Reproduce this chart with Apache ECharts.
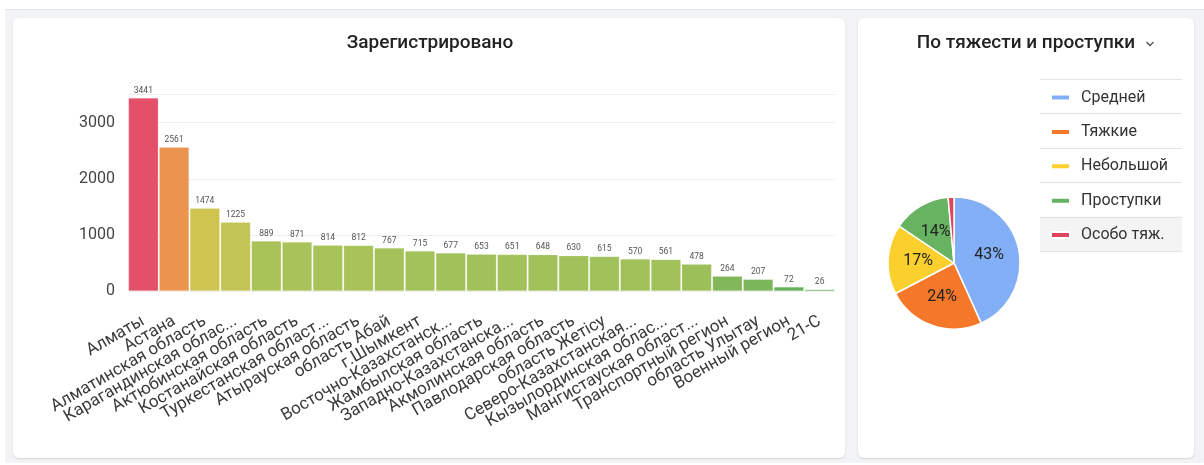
<!DOCTYPE html>
<html>
<head>
<meta charset="utf-8">
<script src="https://cdn.jsdelivr.net/npm/echarts@6/dist/echarts.min.js"></script>
<style>
  html, body { margin: 0; padding: 0; background: #fff; width: 1204px; height: 465px; overflow: hidden; }
  #bg { position: absolute; left: 5px; top: 9px; width: 1199px; height: 453px; background: #f1f3f4; border-top: 1px solid #e6e6e6; }
  .card { position: absolute; background: #fff; border-radius: 6px; box-shadow: 0 1px 2px rgba(0,0,0,0.13); }
  #chart { position: absolute; left: 0; top: 0; width: 1204px; height: 465px; }
</style>
</head>
<body>
<div id="bg"></div>
<div class="card" style="left:13px;top:18px;width:832px;height:440px"></div>
<div class="card" style="left:858px;top:18px;width:336px;height:440px"></div>
<div id="chart"></div>
<script>
// ---- data ----
const regions = [
  'Алматы', 'Астана', 'Алматинская область', 'Карагандинская область',
  'Актюбинская область', 'Костанайская область', 'Туркестанская область',
  'Атырауская область', 'область Абай', 'г.Шымкент',
  'Восточно-Казахстанская область', 'Жамбылская область',
  'Западно-Казахстанская область', 'Акмолинская область',
  'Павлодарская область', 'область Жетісу', 'Северо-Казахстанская область',
  'Кызылординская область', 'Мангистауская область', 'Транспортный регион',
  'область Улытау', 'Военный регион', '21-С'
];
const registered = [3441, 2561, 1474, 1225, 889, 871, 814, 812, 767, 715, 677,
  653, 651, 648, 630, 615, 570, 561, 478, 264, 207, 72, 26];
const yTicks = [0, 1000, 2000, 3000];

const severityNames = ['Средней', 'Тяжкие', 'Небольшой', 'Проступки', 'Особо тяж.'];
const severityValues = [8440, 4700, 3330, 2760, 280];

const barTitle = 'Зарегистрировано';
const pieTitle = 'По тяжести и проступки';

// ---- chart ----
const chart = echarts.init(document.getElementById('chart'), null, { renderer: 'canvas' });
const FONT = 'Roboto, "Noto Sans", sans-serif';
const pieColors = ['#82aff6', '#f5782a', '#fbcf2c', '#67b361', '#e2445c'];

// legend geometry
const legX0 = 1040, legX1 = 1182, legTop = 79, rowH = 34.4;
const legendGraphics = [];
legendGraphics.push({ type: 'rect', z: -1, shape: { x: legX0, y: legTop + rowH * 4, width: legX1 - legX0, height: rowH }, style: { fill: '#f4f4f4' } });
for (let i = 0; i <= severityNames.length; i++) {
  const y = Math.round(legTop + rowH * i) + 0.5;
  legendGraphics.push({ type: 'line', shape: { x1: legX0, y1: y, x2: legX1, y2: y }, style: { stroke: '#e3e3e3', lineWidth: 1 } });
}

chart.setOption({
  animation: false,
  textStyle: { fontFamily: FONT },
  graphic: [
    { type: 'text', x: 430, y: 43, style: { text: barTitle, font: '500 19px ' + FONT, fill: '#222', align: 'center', verticalAlign: 'middle', textAlign: 'center', textVerticalAlign: 'middle' } },
    { type: 'text', x: 1026, y: 43, style: { text: pieTitle, font: '500 19px ' + FONT, fill: '#222', align: 'center', verticalAlign: 'middle', textAlign: 'center', textVerticalAlign: 'middle' } },
    { type: 'polyline', shape: { points: [[1146.5, 42], [1150, 45.5], [1153.5, 42]] }, style: { stroke: '#555', lineWidth: 1.4, fill: null } },
    ...legendGraphics
  ],
  visualMap: {
    show: false,
    seriesIndex: 0,
    type: 'continuous',
    min: 0,
    max: 3441,
    inRange: { color: ['#5aad5a', '#9cbf5a', '#a8c35a', '#c4c552', '#dcc34a', '#e5ac4d', '#eb9350', '#e8735d', '#e4506a'] }
  },
  grid: { left: 128, right: 369, top: 94.6, bottom: 174, containLabel: false },
  xAxis: {
    type: 'category',
    data: regions,
    axisLine: { show: false },
    axisTick: { show: false },
    axisLabel: {
      interval: 0,
      rotate: 30,
      margin: 29,
      fontSize: 17,
      color: '#3a3a3a',
      fontFamily: FONT,
      formatter: v => v.length > 20 ? v.slice(0, 20) + '...' : v
    }
  },
  yAxis: {
    type: 'value',
    min: yTicks[0],
    max: 3500,
    interval: yTicks[1] - yTicks[0],
    axisLine: { show: false },
    axisTick: { show: false },
    splitLine: { lineStyle: { color: '#eeeeee' } },
    axisLabel: { showMaxLabel: false, fontSize: 16, color: '#444', margin: 13, fontFamily: FONT, formatter: v => String(v) }
  },
  legend: {
    orient: 'vertical',
    left: 1050,
    top: 87.5,
    padding: 0,
    itemWidth: 19,
    itemHeight: 6,
    itemGap: 14.4,
    icon: 'roundRect',
    data: severityNames,
    selectedMode: false,
    textStyle: { fontSize: 16, color: '#333', lineHeight: 20, padding: [0, 0, 0, 6], fontFamily: FONT }
  },
  series: [
    {
      type: 'bar',
      data: registered,
      barCategoryGap: '3%',
      itemStyle: { borderColor: 'rgba(255,255,255,0.35)', borderWidth: 0.5 },
      label: { show: true, position: 'top', distance: 3, fontSize: 8.5, color: '#555', fontFamily: FONT }
    },
    {
      type: 'pie',
      center: [954, 263],
      radius: 66,
      startAngle: 90,
      clockwise: true,
      color: pieColors,
      data: severityNames.map((n, i) => ({ name: n, value: severityValues[i] })),
      itemStyle: { borderColor: '#fff', borderWidth: 1.5 },
      label: {
        show: true,
        position: 'inside',
        fontSize: 16,
        color: '#222',
        fontFamily: FONT,
        formatter: p => p.percent >= 5 ? Math.round(p.percent) + '%' : ''
      },
      labelLine: { show: false },
      emphasis: { disabled: true }
    }
  ]
});
</script>
</body>
</html>
